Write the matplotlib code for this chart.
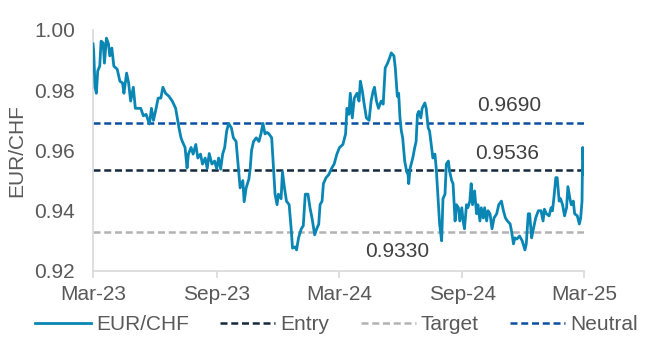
import matplotlib
matplotlib.use("Agg")
import matplotlib.pyplot as plt
import pandas as pd

# EUR/CHF
dates = [
    "2023-03-01", "2023-03-02", "2023-03-04", "2023-03-06", "2023-03-08", "2023-03-11", "2023-03-13",
    "2023-03-16", "2023-03-18", "2023-03-21", "2023-03-24", "2023-03-26", "2023-03-29", "2023-04-01",
    "2023-04-06", "2023-04-10", "2023-04-14", "2023-04-16", "2023-04-20", "2023-04-23", "2023-04-26",
    "2023-04-30", "2023-05-03", "2023-05-11", "2023-05-15", "2023-05-19", "2023-05-24", "2023-05-27",
    "2023-05-30", "2023-06-02", "2023-06-06", "2023-06-10", "2023-06-13", "2023-06-17", "2023-06-22",
    "2023-06-27", "2023-07-02", "2023-07-05", "2023-07-07", "2023-07-10", "2023-07-12", "2023-07-16",
    "2023-07-19", "2023-07-21", "2023-07-25", "2023-07-28", "2023-08-01", "2023-08-04", "2023-08-08",
    "2023-08-11", "2023-08-15", "2023-08-18", "2023-08-21", "2023-08-25", "2023-08-29", "2023-09-01",
    "2023-09-04", "2023-09-07", "2023-09-10", "2023-09-13", "2023-09-16", "2023-09-19", "2023-09-23",
    "2023-09-26", "2023-09-30", "2023-10-03", "2023-10-06", "2023-10-10", "2023-10-12", "2023-10-15",
    "2023-10-19", "2023-10-21", "2023-10-23", "2023-10-26", "2023-10-30", "2023-11-03", "2023-11-06",
    "2023-11-09", "2023-11-12", "2023-11-15", "2023-11-18", "2023-11-22", "2023-11-25", "2023-11-27",
    "2023-11-30", "2023-12-02", "2023-12-06", "2023-12-08", "2023-12-11", "2023-12-14", "2023-12-18",
    "2023-12-21", "2023-12-23", "2023-12-27", "2023-12-29", "2024-01-01", "2024-01-05", "2024-01-08",
    "2024-01-11", "2024-01-15", "2024-01-18", "2024-01-21", "2024-01-25", "2024-01-28", "2024-01-31",
    "2024-02-02", "2024-02-05", "2024-02-07", "2024-02-11", "2024-02-15", "2024-02-19", "2024-02-23",
    "2024-02-27", "2024-03-02", "2024-03-07", "2024-03-11", "2024-03-13", "2024-03-16", "2024-03-18",
    "2024-03-21", "2024-03-24", "2024-03-28", "2024-03-31", "2024-04-02", "2024-04-05", "2024-04-07",
    "2024-04-11", "2024-04-15", "2024-04-18", "2024-04-21", "2024-04-23", "2024-04-26", "2024-04-29",
    "2024-05-03", "2024-05-06", "2024-05-09", "2024-05-12", "2024-05-16", "2024-05-18", "2024-05-22",
    "2024-05-24", "2024-05-27", "2024-05-29", "2024-05-31", "2024-06-02", "2024-06-04", "2024-06-07",
    "2024-06-10", "2024-06-12", "2024-06-13", "2024-06-15", "2024-06-19", "2024-06-22", "2024-06-24",
    "2024-06-26", "2024-06-28", "2024-07-01", "2024-07-03", "2024-07-07", "2024-07-09", "2024-07-12",
    "2024-07-14", "2024-07-17", "2024-07-19", "2024-07-22", "2024-07-24", "2024-07-27", "2024-07-29",
    "2024-08-01", "2024-08-03", "2024-08-06", "2024-08-08", "2024-08-11", "2024-08-13", "2024-08-16",
    "2024-08-18", "2024-08-21", "2024-08-23", "2024-08-26", "2024-08-28", "2024-08-31", "2024-09-02",
    "2024-09-04", "2024-09-07", "2024-09-09", "2024-09-12", "2024-09-14", "2024-09-16", "2024-09-19",
    "2024-09-22", "2024-09-24", "2024-09-27", "2024-09-29", "2024-10-02", "2024-10-04", "2024-10-07",
    "2024-10-09", "2024-10-12", "2024-10-15", "2024-10-18", "2024-10-22", "2024-10-25", "2024-10-29",
    "2024-11-01", "2024-11-04", "2024-11-07", "2024-11-11", "2024-11-13", "2024-11-16", "2024-11-18",
    "2024-11-21", "2024-11-25", "2024-11-29", "2024-12-03", "2024-12-05", "2024-12-08", "2024-12-10",
    "2024-12-13", "2024-12-15", "2024-12-19", "2024-12-23", "2024-12-27", "2024-12-30", "2025-01-01",
    "2025-01-04", "2025-01-08", "2025-01-11", "2025-01-13", "2025-01-15", "2025-01-18", "2025-01-20",
    "2025-01-23", "2025-01-25", "2025-01-28", "2025-01-31", "2025-02-03", "2025-02-05", "2025-02-08",
    "2025-02-10", "2025-02-13", "2025-02-15", "2025-02-19", "2025-02-22", "2025-02-24", "2025-02-26",
    "2025-02-27", "2025-03-01",
]
eurchf = [
    0.9954, 0.9930, 0.9810, 0.9790, 0.9864, 0.9880, 0.9963,
    0.9957, 0.9890, 0.9973, 0.9954, 0.9914, 0.9940, 0.9880,
    0.9870, 0.9830, 0.9824, 0.9790, 0.9857, 0.9824, 0.9764,
    0.9810, 0.9740, 0.9740, 0.9715, 0.9720, 0.9688, 0.9740,
    0.9700, 0.9730, 0.9774, 0.9774, 0.9810, 0.9790, 0.9780,
    0.9764, 0.9740, 0.9700, 0.9675, 0.9642, 0.9630, 0.9610,
    0.9542, 0.9588, 0.9610, 0.9588, 0.9620, 0.9575, 0.9588,
    0.9555, 0.9575, 0.9540, 0.9590, 0.9555, 0.9565, 0.9540,
    0.9575, 0.9538, 0.9588, 0.9610, 0.9665, 0.9690, 0.9675,
    0.9642, 0.9630, 0.9555, 0.9476, 0.9500, 0.9430, 0.9476,
    0.9505, 0.9540, 0.9600, 0.9630, 0.9642, 0.9630, 0.9655,
    0.9690, 0.9655, 0.9660, 0.9655, 0.9642, 0.9530, 0.9455,
    0.9420, 0.9455, 0.9440, 0.9530, 0.9476, 0.9432, 0.9420,
    0.9340, 0.9276, 0.9280, 0.9270, 0.9310, 0.9340, 0.9350,
    0.9455, 0.9455, 0.9410, 0.9376, 0.9320, 0.9340, 0.9355,
    0.9420, 0.9432, 0.9490, 0.9510, 0.9520, 0.9540, 0.9555,
    0.9588, 0.9610, 0.9620, 0.9655, 0.9740, 0.9720, 0.9790,
    0.9708, 0.9774, 0.9790, 0.9764, 0.9830, 0.9797, 0.9764,
    0.9708, 0.9700, 0.9764, 0.9797, 0.9810, 0.9764, 0.9740,
    0.9764, 0.9754, 0.9874, 0.9887, 0.9910, 0.9924, 0.9914,
    0.9874, 0.9780, 0.9790, 0.9708, 0.9665, 0.9642, 0.9565,
    0.9530, 0.9520, 0.9490, 0.9540, 0.9575, 0.9610, 0.9630,
    0.9720, 0.9730, 0.9708, 0.9740, 0.9758, 0.9740, 0.9675,
    0.9665, 0.9610, 0.9575, 0.9588, 0.9540, 0.9432, 0.9356,
    0.9300, 0.9440, 0.9455, 0.9555, 0.9565, 0.9530, 0.9500,
    0.9490, 0.9366, 0.9420, 0.9410, 0.9366, 0.9410, 0.9366,
    0.9340, 0.9420, 0.9410, 0.9432, 0.9490, 0.9420, 0.9466,
    0.9390, 0.9420, 0.9366, 0.9410, 0.9376, 0.9410, 0.9366,
    0.9400, 0.9390, 0.9340, 0.9376, 0.9390, 0.9420, 0.9432,
    0.9400, 0.9376, 0.9366, 0.9356, 0.9333, 0.9290, 0.9310,
    0.9306, 0.9316, 0.9300, 0.9270, 0.9290, 0.9390, 0.9390,
    0.9310, 0.9333, 0.9376, 0.9400, 0.9400, 0.9366, 0.9405,
    0.9390, 0.9383, 0.9410, 0.9400, 0.9440, 0.9510, 0.9510,
    0.9432, 0.9440, 0.9420, 0.9383, 0.9410, 0.9480, 0.9440,
    0.9420, 0.9432, 0.9390, 0.9383, 0.9356, 0.9376, 0.9432,
    0.9610, 0.9520,
]

entry = 0.9536
target = 0.9330
neutral = 0.9690

tick_dates = ["2023-03-01", "2023-09-01", "2024-03-01", "2024-09-01", "2025-03-01"]
tick_labels = ["Mar-23", "Sep-23", "Mar-24", "Sep-24", "Mar-25"]

plt.rcParams["font.family"] = ["Liberation Sans", "DejaVu Sans"]
text_col = "#595959"
fs = 15

fig = plt.figure(figsize=(6.63, 3.57), dpi=100)
ax = fig.add_axes([0.1403, 0.2409, 0.7406, 0.6751])

x = pd.to_datetime(dates)
dash = (0, (2.8, 1.5))
ax.plot(x, eurchf, color="#0a86b4", lw=2.0, label="EUR/CHF", zorder=3)
ax.axhline(entry, color="#14293d", lw=1.8, ls=dash, label="Entry", zorder=2)
ax.axhline(target, color="#b3b3b3", lw=1.8, ls=dash, label="Target", zorder=2)
ax.axhline(neutral, color="#0b4ea2", lw=1.8, ls=dash, label="Neutral", zorder=2)

# level labels
ax.text(pd.Timestamp("2024-11-10"), 0.9748, f"{neutral:.4f}", ha="center", va="center",
        fontsize=fs, color="#404040")
ax.text(pd.Timestamp("2024-11-06"), 0.9591, f"{entry:.4f}", ha="center", va="center",
        fontsize=fs, color="#404040")
ax.text(pd.Timestamp("2024-05-27"), 0.9264, f"{target:.4f}", ha="center", va="center",
        fontsize=fs, color="#404040")

ax.set_xlim(pd.Timestamp(tick_dates[0]), pd.Timestamp(tick_dates[-1]))
ax.set_ylim(0.92, 1.00)
ax.set_xticks(pd.to_datetime(tick_dates))
ax.set_xticklabels(tick_labels)
ax.set_yticks([0.92, 0.94, 0.96, 0.98, 1.00])
ax.yaxis.set_major_formatter(matplotlib.ticker.FormatStrFormatter("%.2f"))
ax.set_ylabel("EUR/CHF", fontsize=fs, color=text_col, labelpad=6)

for s in ["top", "right"]:
    ax.spines[s].set_visible(False)
for s in ["left", "bottom"]:
    ax.spines[s].set_color("#d9d9d9")
    ax.spines[s].set_linewidth(1.2)
ax.tick_params(axis="y", length=0, labelsize=fs, labelcolor=text_col, pad=13)
ax.tick_params(axis="x", length=5, width=1.2, color="#d9d9d9", labelsize=fs, labelcolor=text_col, pad=5)

fig.legend(loc="center", bbox_to_anchor=(0.508, 1 - 325 / 357), ncol=4, frameon=False, fontsize=fs,
           handlelength=2.65, columnspacing=1.5, handletextpad=0.25, labelcolor=text_col)

fig.savefig("out.png", dpi=100)
